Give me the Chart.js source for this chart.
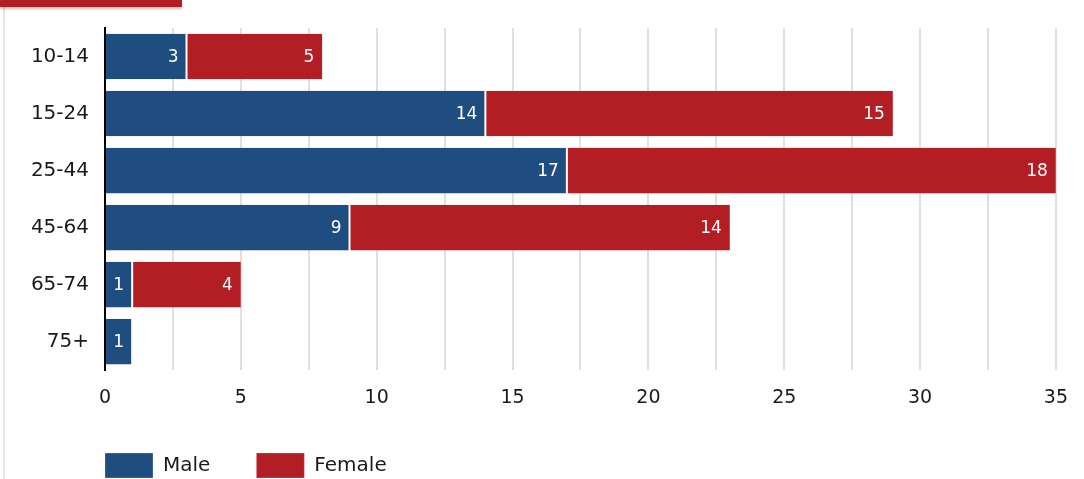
<!DOCTYPE html>
<html>
<head>
<meta charset="utf-8">
<script src="https://cdn.jsdelivr.net/npm/chart.js@4/dist/chart.umd.min.js"></script>
<style>
  html, body { margin: 0; padding: 0; background: #fff; }
  #wrap { position: relative; width: 1084px; height: 479px; overflow: hidden; }
  /* card edge on the left and the red tab along the top */
  #edge { position: absolute; left: 3px; top: 0; width: 2px; height: 479px; background: #e6e6e6; }
  #tab { position: absolute; left: 0; top: 0; width: 182px; height: 7px; background: #b31e24;
         box-shadow: 0 2px 3px rgba(0,0,0,0.25); }
  #chart { position: absolute; left: 0; top: 0; }
</style>
</head>
<body>
<div id="wrap">
  <div id="edge"></div>
  <canvas id="chart" width="1084" height="479"></canvas>
  <div id="tab"></div>
</div>
<script>
// ── Data ───────────────────────────────────────────────────
const ageGroups = ['10-14', '15-24', '25-44', '45-64', '65-74', '75+'];
const male      = [3, 14, 17, 9, 1, 1];
const female    = [5, 15, 18, 14, 4, 0];

const C = {
    blue:  '#1f4d80',
    red:   '#b31e24',
    grid:  '#e0e0e0',
    text:  '#1a1a1a',
    axis:  '#000000'
};
const FONT = "'DejaVu Sans', sans-serif";
const LEGEND_GAP = 46;

// value labels drawn inside the right end of every segment
const segmentLabels = {
    id: 'segmentLabels',
    afterDatasetsDraw(chart) {
        const ctx = chart.ctx;
        ctx.save();
        ctx.font = `17px ${FONT}`;
        ctx.fillStyle = '#ffffff';
        ctx.textAlign = 'right';
        ctx.textBaseline = 'middle';
        chart.data.datasets.forEach((ds, i) => {
            const meta = chart.getDatasetMeta(i);
            meta.data.forEach((bar, j) => {
                const v = ds.data[j];
                if (!v) return;
                ctx.fillText(String(v), bar.x - 8, bar.y + 1);
            });
        });
        ctx.restore();
    }
};

// legend row starts flush with the plot's left edge, a bit closer to the axis
const legendPlacement = {
    id: 'legendPlacement',
    afterLayout(chart) {
        const lg = chart.legend;
        if (!lg) return;
        lg.left = chart.chartArea.left - LEGEND_GAP;
        lg.top -= 18;
    }
};

new Chart(document.getElementById('chart').getContext('2d'), {
    type: 'bar',
    data: {
        labels: ageGroups,
        datasets: [
            {
                label: 'Male',
                data: male,
                backgroundColor: C.blue,
                borderColor: '#ffffff',
                borderWidth: { left: 0, right: 1, top: 0, bottom: 0 },
                borderSkipped: false,
                barPercentage: 1,
                categoryPercentage: 0.8
            },
            {
                label: 'Female',
                data: female,
                backgroundColor: C.red,
                borderColor: '#ffffff',
                borderWidth: { left: 1, right: 0, top: 0, bottom: 0 },
                borderSkipped: false,
                barPercentage: 1,
                categoryPercentage: 0.8
            }
        ]
    },
    options: {
        indexAxis: 'y',
        responsive: false,
        animation: false,
        layout: { padding: { top: 28, right: 26, left: 0, bottom: -27 } },
        plugins: {
            tooltip: { enabled: false },
            legend: {
                position: 'bottom',
                align: 'start',
                fullSize: false,
                labels: {
                    color: C.text,
                    font: { family: FONT, size: 20 },
                    boxWidth: 48,
                    boxHeight: 25,
                    padding: LEGEND_GAP
                }
            }
        },
        scales: {
            x: {
                stacked: true,
                min: 0,
                max: 35,
                ticks: {
                    stepSize: 2.5,
                    autoSkip: false,
                    maxRotation: 0,
                    padding: 16,
                    color: C.text,
                    font: { family: FONT, size: 19 },
                    callback: v => (v % 5 === 0 ? v : '')
                },
                grid: { color: C.grid, lineWidth: 2, drawTicks: false },
                border: { display: false }
            },
            y: {
                stacked: true,
                afterFit: scale => { scale.width = 105; },
                ticks: {
                    padding: 16,
                    color: C.text,
                    font: { family: FONT, size: 20 }
                },
                grid: { display: false, drawTicks: false },
                border: { display: true, color: C.axis, width: 2 }
            }
        }
    },
    plugins: [segmentLabels, legendPlacement]
});
</script>
</body>
</html>
